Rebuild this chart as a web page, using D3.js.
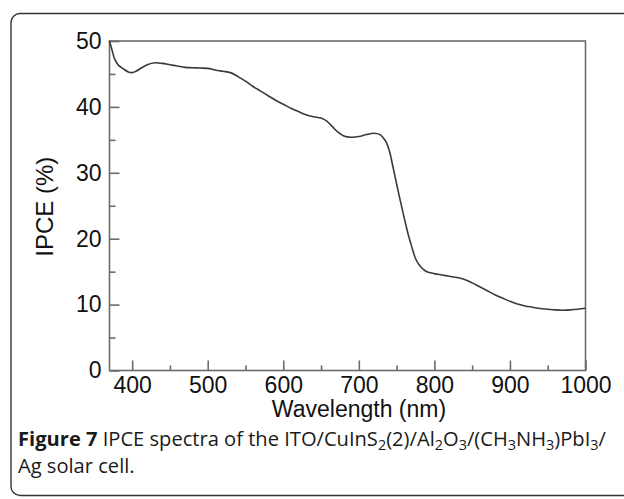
<!DOCTYPE html>
<html>
<head>
<meta charset="utf-8">
<script src="https://cdn.jsdelivr.net/npm/d3@7"></script>
<style>
  html, body { margin: 0; padding: 0; background: #fff; }
  svg { display: block; }
</style>
</head>
<body>
<script>
// IPCE spectrum: wavelength (nm) and IPCE (%)
const wavelength = [370, 373, 377, 382, 388, 395, 400, 405, 412, 420, 430, 440, 450, 460, 470, 480, 490, 500,
  510, 520, 530, 540, 550, 560, 570, 580, 590, 600, 610, 620, 630, 640, 650, 658, 665, 672, 680, 690, 700,
  710, 720, 728, 735, 740, 745, 750, 755, 760, 765, 770, 775, 780, 785, 790, 800, 810, 820, 830, 840, 850,
  860, 870, 880, 890, 900, 910, 920, 930, 940, 950, 960, 970, 980, 990, 1000];
const ipce = [50, 48.8, 47.2, 46.3, 45.8, 45.3, 45.2, 45.4, 45.9, 46.4, 46.7, 46.6, 46.4, 46.2, 46.0, 45.95, 45.9, 45.85,
  45.6, 45.4, 45.2, 44.6, 43.9, 43.1, 42.4, 41.7, 41.0, 40.4, 39.8, 39.3, 38.8, 38.5, 38.3, 37.8, 37.0, 36.2, 35.6, 35.4, 35.5,
  35.8, 36.0, 35.8, 34.9, 33.5, 31.0, 28.3, 25.7, 23.2, 20.8, 18.8, 17.0, 16.0, 15.4, 15.0, 14.7, 14.5, 14.3, 14.1, 13.8, 13.3,
  12.7, 12.1, 11.5, 11.0, 10.5, 10.1, 9.8, 9.6, 9.4, 9.3, 9.2, 9.15, 9.2, 9.3, 9.45];

const xMajorTicks = [400, 500, 600, 700, 800, 900, 1000];
const xMinorTicks = [450, 550, 650, 750, 850, 950];
const yMajorTicks = [0, 10, 20, 30, 40, 50];
const yMinorTicks = [5, 15, 25, 35, 45];

const W = 624, H = 499;
const plot = { left: 109.5, top: 41, right: 585.5, bottom: 370.5 };

const svg = d3.select("body").append("svg").attr("width", W).attr("height", H);

// Rounded figure frame (runs past the right and bottom edges)
svg.append("rect")
  .attr("x", 11).attr("y", 13.5)
  .attr("width", 640).attr("height", 482)
  .attr("rx", 9).attr("ry", 9)
  .attr("fill", "none").attr("stroke", "#333").attr("stroke-width", 1.4);

const x = d3.scaleLinear().domain([370, 1000]).range([plot.left, plot.right]);
const y = d3.scaleLinear().domain([0, 50]).range([plot.bottom, plot.top]);

const axisColor = "#6b6b6b";
const tickFont = "'Liberation Sans', Arial, sans-serif";

// Plot box
svg.append("rect")
  .attr("x", plot.left).attr("y", plot.top)
  .attr("width", plot.right - plot.left).attr("height", plot.bottom - plot.top)
  .attr("fill", "none").attr("stroke", axisColor).attr("stroke-width", 1.6);

// Inward x ticks
const fmt = d3.format("d");
const xAxisMajor = d3.axisBottom(x).tickValues(xMajorTicks).tickFormat(fmt)
  .tickSizeInner(-10).tickSizeOuter(0).tickPadding(6);
const xAxisMinor = d3.axisBottom(x).tickValues(xMinorTicks).tickSizeInner(-5).tickSizeOuter(0).tickFormat("");
const gx = svg.append("g").attr("transform", `translate(0,${plot.bottom})`).call(xAxisMajor);
const gxm = svg.append("g").attr("transform", `translate(0,${plot.bottom})`).call(xAxisMinor);

// Inward y ticks
const yAxisMajor = d3.axisLeft(y).tickValues(yMajorTicks).tickFormat(fmt)
  .tickSizeInner(-10).tickSizeOuter(0).tickPadding(8);
const yAxisMinor = d3.axisLeft(y).tickValues(yMinorTicks).tickSizeInner(-6).tickSizeOuter(0).tickFormat("");
const gy = svg.append("g").attr("transform", `translate(${plot.left},0)`).call(yAxisMajor);
const gym = svg.append("g").attr("transform", `translate(${plot.left},0)`).call(yAxisMinor);

[gx, gxm, gy, gym].forEach(g => {
  g.select(".domain").remove();
  g.selectAll(".tick line").attr("stroke", axisColor).attr("stroke-width", 1.6);
  g.selectAll(".tick text")
    .attr("fill", "#111")
    .style("font-family", tickFont)
    .style("font-size", "23px");
});
gx.selectAll(".tick text").attr("dy", "0.71em");

// Spectrum line
const line = d3.line()
  .x((d, i) => x(wavelength[i]))
  .y(d => y(d))
  .curve(d3.curveCatmullRom.alpha(0.5));

svg.append("path")
  .datum(ipce)
  .attr("d", line)
  .attr("fill", "none")
  .attr("stroke", "#3a3a3a")
  .attr("stroke-width", 1.6);

// Axis titles
svg.append("text")
  .attr("x", 359).attr("y", 417)
  .attr("text-anchor", "middle")
  .style("font-family", tickFont).style("font-size", "23px").attr("fill", "#111")
  .text("Wavelength (nm)");

svg.append("text")
  .attr("transform", `translate(53,${(plot.top + plot.bottom) / 2 + 1}) rotate(-90)`)
  .attr("text-anchor", "middle")
  .style("font-family", tickFont).style("font-size", "24px").attr("fill", "#111")
  .text("IPCE (%)");

// Caption with chemical subscripts
const capFont = "'Open Sans', 'Noto Sans', sans-serif";
const capLeft = 18, capRight = 607;
const cap1 = svg.append("text")
  .attr("x", capLeft).attr("y", 446)
  .style("font-family", capFont).style("font-size", "20px").attr("fill", "#1a1a1a");

const parts = [
  { t: "Figure 7", w: "bold" },
  { t: " IPCE spectra of the ITO/CuInS" }, { t: "2", sub: true },
  { t: "(2)/Al" }, { t: "2", sub: true }, { t: "O" }, { t: "3", sub: true },
  { t: "/(CH" }, { t: "3", sub: true }, { t: "NH" }, { t: "3", sub: true },
  { t: ")PbI" }, { t: "3", sub: true }, { t: "/" }
];
let lowered = false;
parts.forEach(p => {
  const ts = cap1.append("tspan").text(p.t);
  if (p.w) ts.attr("font-weight", p.w);
  if (p.sub) { ts.attr("dy", 4).attr("class", "sub"); lowered = true; }
  else if (lowered) { ts.attr("dy", -4); lowered = false; }
});

const cap2 = svg.append("text")
  .attr("x", capLeft).attr("y", 473)
  .style("font-family", capFont).attr("fill", "#1a1a1a")
  .text("Ag solar cell.");

// Size the caption so its first line spans the frame's text width
function setCapSize(fs) {
  cap1.style("font-size", fs + "px");
  cap1.selectAll("tspan.sub").style("font-size", (fs * 0.72) + "px");
  cap2.style("font-size", fs + "px");
}
setCapSize(20);
const w0 = cap1.node().getBBox().width;
setCapSize(20 * (capRight - capLeft) / w0);
</script>
</body>
</html>
